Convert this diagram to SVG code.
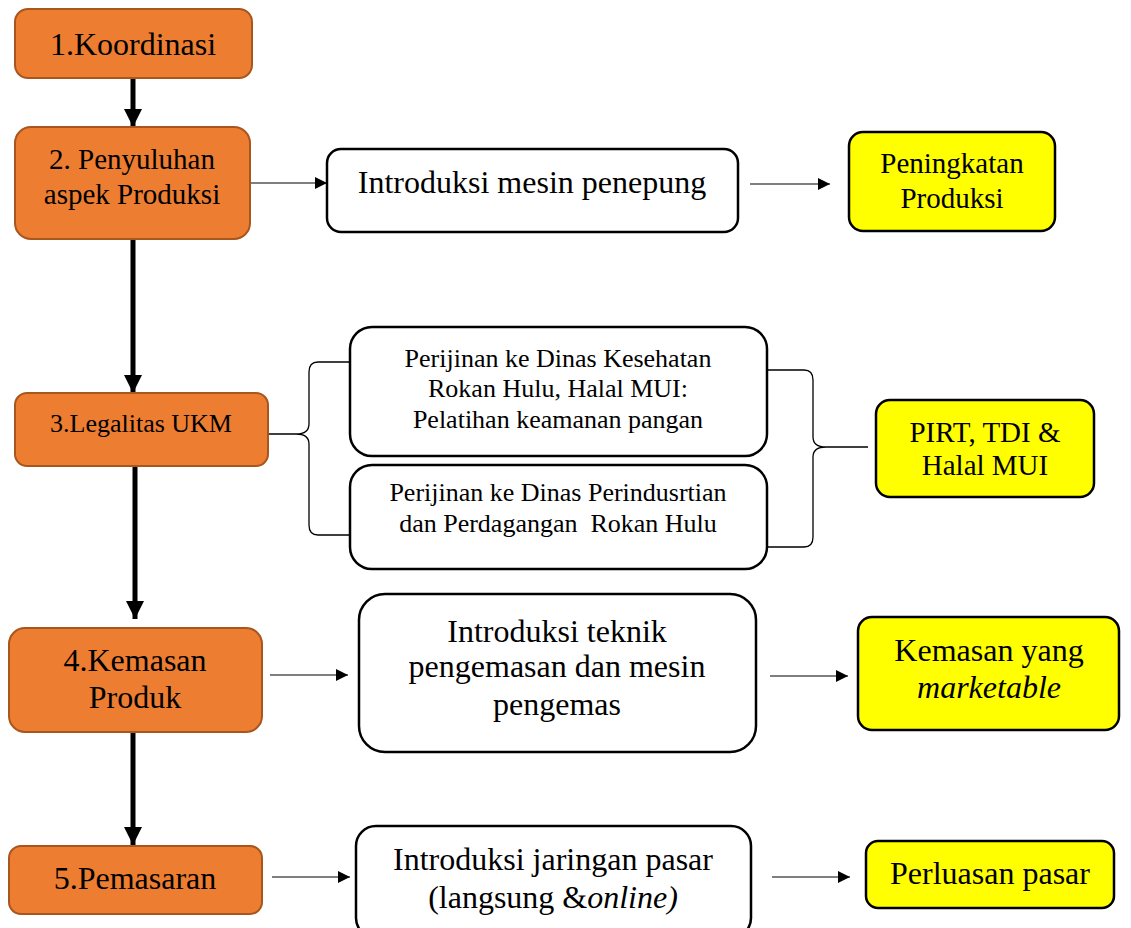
<svg xmlns="http://www.w3.org/2000/svg" width="1131" height="928" viewBox="0 0 1131 928">
<style>
.o{fill:#ED7D31;stroke:#A8561D;stroke-width:2}
.w{fill:#fff;stroke:#000;stroke-width:2.5}
.y{fill:#FFFF00;stroke:#000;stroke-width:2.5}
text{font-family:"Liberation Serif","Times New Roman",serif;fill:#000;text-anchor:middle}
.f32{font-size:32px}.f29{font-size:29px}.f26{font-size:26px}
.thick{stroke:#000;stroke-width:5;fill:none}
.thin{stroke:#000;stroke-width:1.2;fill:none}
.br{stroke:#000;stroke-width:1.3;fill:none}
</style>
<defs>
<marker id="hb" viewBox="0 0 10 10" refX="10" refY="5" markerWidth="3.6" markerHeight="3.6" orient="auto" markerUnits="strokeWidth"><path d="M0,0L10,5L0,10z" fill="#000"/></marker>
<marker id="ht" viewBox="0 0 10 10" refX="10" refY="5" markerWidth="14" markerHeight="12" orient="auto" markerUnits="userSpaceOnUse"><path d="M0,0L10,5L0,10z" fill="#000"/></marker>
</defs>
<g id="connectors">
<line class="thick" x1="133" y1="78" x2="133" y2="127" marker-end="url(#hb)"/>
<line class="thick" x1="133" y1="239" x2="133" y2="393" marker-end="url(#hb)"/>
<line class="thick" x1="135" y1="466" x2="135" y2="619" marker-end="url(#hb)"/>
<line class="thick" x1="133" y1="732" x2="133" y2="845" marker-end="url(#hb)"/>
<line class="thin" x1="250" y1="183" x2="327" y2="183" marker-end="url(#ht)"/>
<line class="thin" x1="750" y1="184" x2="830" y2="184" marker-end="url(#ht)"/>
<line class="thin" x1="270" y1="675" x2="348" y2="675" marker-end="url(#ht)"/>
<line class="thin" x1="770" y1="676" x2="848" y2="676" marker-end="url(#ht)"/>
<line class="thin" x1="272" y1="877" x2="350" y2="877" marker-end="url(#ht)"/>
<line class="thin" x1="772" y1="877" x2="850" y2="877" marker-end="url(#ht)"/>
<path class="br" d="M350,362 L318,362 Q309,362 309,372 L309,424 Q309,434 296,434 L268,434 M296,434 Q309,434 309,444 L309,525 Q309,535 318,535 L350,535"/>
<path class="br" d="M767,370 L804,370 Q813,370 813,380 L813,437 Q813,447 826,447 L868,447 M826,447 Q813,447 813,457 L813,537 Q813,547 804,547 L767,547"/>
</g>
<g id="n1"><rect class="o" x="15" y="9" width="237" height="69" rx="13"/><text font-family="Liberation Serif" class="f32" x="133" y="55">1.Koordinasi</text></g>
<g id="n2"><rect class="o" x="15" y="127" width="235" height="112" rx="16"/><text font-family="Liberation Serif" class="f29" x="132" y="169">2. Penyuluhan</text><text font-family="Liberation Serif" class="f29" x="132" y="204">aspek Produksi</text></g>
<g id="n3"><rect class="o" x="15" y="393" width="253" height="73" rx="12"/><text font-family="Liberation Serif" class="f26" x="141" y="432">3.Legalitas UKM</text></g>
<g id="n4"><rect class="o" x="9" y="628" width="253" height="104" rx="16"/><text font-family="Liberation Serif" class="f32" x="135" y="671">4.Kemasan</text><text font-family="Liberation Serif" class="f32" x="135" y="708">Produk</text></g>
<g id="n5"><rect class="o" x="9" y="846" width="253" height="68" rx="12"/><text font-family="Liberation Serif" class="f32" x="135" y="889">5.Pemasaran</text></g>
<g id="i1"><rect class="w" x="327" y="149" width="411" height="83" rx="14"/><text font-family="Liberation Serif" class="f32" x="532" y="193">Introduksi mesin penepung</text></g>
<g id="i2"><rect class="w" x="350" y="327" width="417" height="129" rx="22"/><text font-family="Liberation Serif" class="f26" x="558" y="367">Perijinan ke Dinas Kesehatan</text><text font-family="Liberation Serif" class="f26" x="558" y="397">Rokan Hulu, Halal MUI:</text><text font-family="Liberation Serif" class="f26" x="558" y="428">Pelatihan keamanan pangan</text></g>
<g id="i3"><rect class="w" x="350" y="465" width="417" height="104" rx="22"/><text font-family="Liberation Serif" class="f26" x="558" y="501">Perijinan ke Dinas Perindusrtian</text><text font-family="Liberation Serif" class="f26" x="558" y="532" xml:space="preserve">dan Perdagangan  Rokan Hulu</text></g>
<g id="i4"><rect class="w" x="359" y="594" width="397" height="158" rx="26"/><text font-family="Liberation Serif" class="f32" x="557" y="642">Introduksi teknik</text><text font-family="Liberation Serif" class="f32" x="557" y="677">pengemasan dan mesin</text><text font-family="Liberation Serif" class="f32" x="557" y="715">pengemas</text></g>
<g id="i5"><rect class="w" x="356" y="826" width="395" height="112" rx="20"/><text font-family="Liberation Serif" class="f32" x="553" y="870">Introduksi jaringan pasar</text><text font-family="Liberation Serif" class="f32" x="553" y="908">(langsung &amp;<tspan font-style="italic">online)</tspan></text></g>
<g id="r1"><rect class="y" x="849" y="132" width="206" height="99" rx="14"/><text font-family="Liberation Serif" class="f29" x="952" y="173">Peningkatan</text><text font-family="Liberation Serif" class="f29" x="952" y="208">Produksi</text></g>
<g id="r2"><rect class="y" x="876" y="400" width="218" height="97" rx="14"/><text font-family="Liberation Serif" class="f29" x="985" y="442">PIRT, TDI &amp;</text><text font-family="Liberation Serif" class="f29" x="985" y="475">Halal MUI</text></g>
<g id="r3"><rect class="y" x="858" y="617" width="261" height="113" rx="14"/><text font-family="Liberation Serif" class="f32" x="989" y="661">Kemasan yang</text><text font-family="Liberation Serif" class="f32" x="989" y="698" font-style="italic">marketable</text></g>
<g id="r4"><rect class="y" x="866" y="841" width="248" height="67" rx="12"/><text font-family="Liberation Serif" class="f32" x="990" y="884">Perluasan pasar</text></g>
</svg>
